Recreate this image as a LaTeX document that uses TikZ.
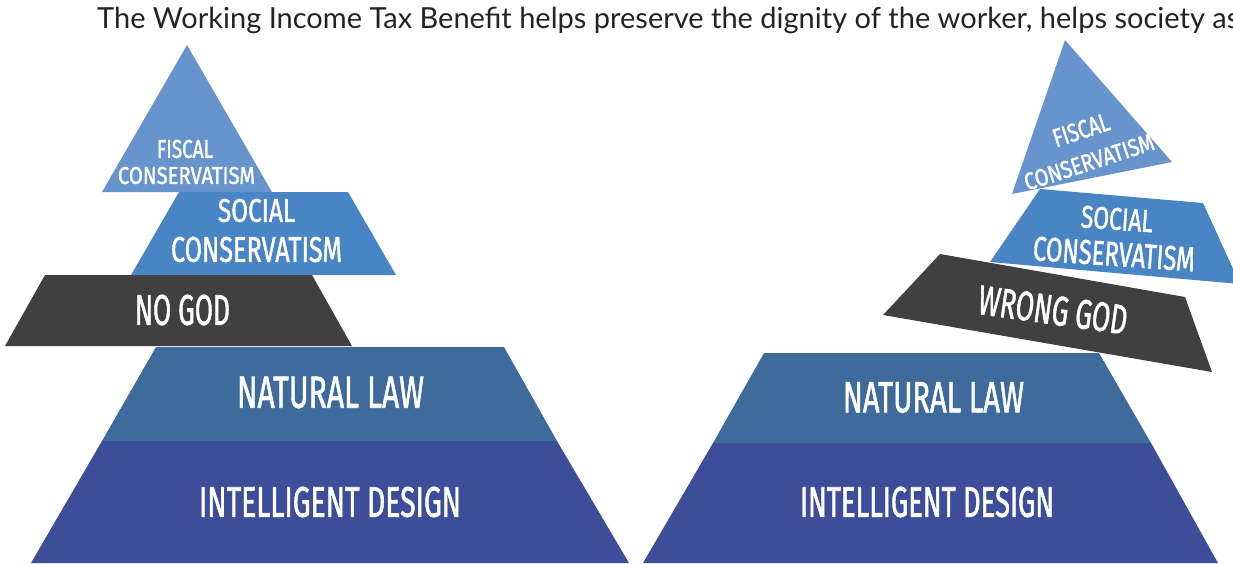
\documentclass[tikz,border=0pt]{standalone}
\usepackage{fontspec}
\usepackage{graphicx}
\setmainfont{Lato}
\newfontfamily\pyrfont{Fira Sans}[FakeBold=1.6]

\definecolor{fiscalblue}{RGB}{104,148,206}
\definecolor{socialblue}{RGB}{73,132,196}
\definecolor{godgray}{RGB}{64,64,64}
\definecolor{lawblue}{RGB}{62,107,155}
\definecolor{designblue}{RGB}{62,77,153}
\definecolor{headgray}{RGB}{35,35,35}

% squeeze a label into a given width and cap height
\newcommand{\pyrtext}[3]{\resizebox{#1}{#2}{#3}}

\begin{document}
\begin{tikzpicture}[x=1pt,y=-1pt]
  \tikzstyle{word}=[inner sep=0pt, text=white, font=\pyrfont]
  \tikzstyle{head}=[inner sep=0pt, anchor=base west, text=headgray, font=\fontsize{29}{33}\selectfont]

  \useasboundingbox (0,0) rectangle (1233,563);
  \clip (0,0) rectangle (1233,563);

  \node[head] (title) at (97,28) {The Working Income Tax Benefit helps preserve the dignity of the worker, helps society as};

  % left pyramid
  \fill[designblue] (102,441) -- (557,441) -- (629,563) -- (31,563) -- cycle;
  \fill[lawblue] (156,347) -- (504,347) -- (557,441) -- (102,441) -- cycle;
  \fill[godgray] (45,275) -- (312,275) -- (352,346) -- (5,346) -- cycle;
  \fill[socialblue] (179,192) -- (348,192) -- (396,275) -- (131,275) -- cycle;
  \fill[fiscalblue] (187,45) -- (272,192) -- (102,192) -- cycle;

  \node[word] (lfiscala) at (185,149) {\pyrtext{56pt}{18pt}{FISCAL}};
  \node[word] (lfiscalb) at (186.5,175.5) {\pyrtext{137pt}{17pt}{CONSERVATISM}};
  \node[word] (lsociala) at (256.5,210.5) {\pyrtext{77pt}{23pt}{SOCIAL}};
  \node[word] (lsocialb) at (256.5,249.5) {\pyrtext{171pt}{25pt}{CONSERVATISM}};
  \node[word] (lgod) at (182.5,310) {\pyrtext{95pt}{30pt}{NO GOD}};
  \node[word] (llaw) at (330.5,392.5) {\pyrtext{187pt}{31pt}{NATURAL LAW}};
  \node[word] (ldesign) at (330,502) {\pyrtext{262pt}{30pt}{INTELLIGENT DESIGN}};

  % right pyramid, upper part knocked askew
  \fill[designblue] (713,443) -- (1151,443) -- (1218,563) -- (643,563) -- cycle;
  \fill[lawblue] (764,353) -- (1099,353) -- (1151,443) -- (713,443) -- cycle;
  \fill[socialblue] (1040,189) -- (1203,203) -- (1240,284) -- (990,262) -- cycle;
  \fill[godgray] (940,254) -- (1185,297) -- (1212,372) -- (883,315) -- cycle;
  \fill[fiscalblue] (1065,40) -- (1172,162) -- (1012,194) -- cycle;

  \node[word, rotate=18] (rfiscala) at (1081,130) {\pyrtext{58pt}{18pt}{FISCAL}};
  \node[word, rotate=18] (rfiscalb) at (1089,162) {\pyrtext{135pt}{17pt}{CONSERVATISM}};
  \node[word, rotate=-4] (rsociala) at (1117,219) {\pyrtext{72pt}{22pt}{SOCIAL}};
  \node[word, rotate=-4] (rsocialb) at (1114,254) {\pyrtext{162pt}{24pt}{CONSERVATISM}};
  \node[word, rotate=-8] (rgod) at (1053,310) {\pyrtext{150pt}{29pt}{WRONG GOD}};
  \node[word] (rlaw) at (933.5,397.5) {\pyrtext{181pt}{30pt}{NATURAL LAW}};
  \node[word] (rdesign) at (927,502) {\pyrtext{254pt}{30pt}{INTELLIGENT DESIGN}};
\end{tikzpicture}
\end{document}
